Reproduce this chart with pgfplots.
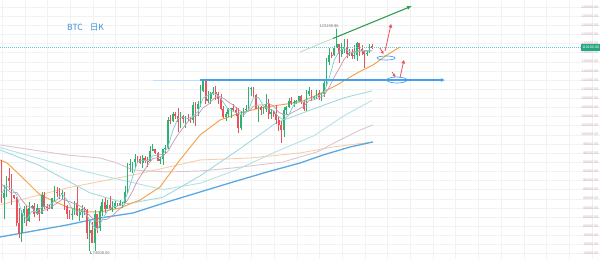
\documentclass[border=0pt]{standalone}
\usepackage{pgfplots}
\pgfplotsset{compat=1.18}
\usepackage{pgfplotstable}
\usepackage{fontspec}
\setmainfont{Liberation Sans}
\newfontfamily\cjk{Noto Sans CJK SC}
\usetikzlibrary{arrows.meta}

\definecolor{upc}{RGB}{46,178,112}
\definecolor{dnc}{RGB}{236,82,92}
\definecolor{maA}{RGB}{120,206,212}
\definecolor{maB}{RGB}{200,150,172}
\definecolor{maC}{RGB}{242,166,80}
\definecolor{maD}{RGB}{178,226,230}
\definecolor{maE}{RGB}{160,218,222}
\definecolor{maF}{RGB}{222,196,208}
\definecolor{maG}{RGB}{246,206,170}
\definecolor{maH}{RGB}{92,168,226}
\definecolor{hline}{RGB}{70,160,240}
\definecolor{tline}{RGB}{46,158,80}
\definecolor{txtblue}{RGB}{58,145,220}
\definecolor{pricebox}{RGB}{38,166,130}
\definecolor{axlab}{RGB}{200,165,175}
\definecolor{pline}{RGB}{100,200,215}

% day index (0 = 3 Mar 2025), prices in thousands; rising candles
\pgfplotstableread{
i o h l c
1 86.12 88.90 81.50 87.25
2 87.25 91.00 86.30 90.60
8 78.60 83.60 76.60 82.93
9 82.93 84.40 80.60 83.68
11 81.10 85.30 80.80 83.98
12 83.98 84.70 83.65 84.34
14 82.58 84.75 82.50 84.04
16 82.72 87.45 82.60 86.85
20 83.83 86.10 83.65 86.08
21 86.08 88.75 85.50 87.50
24 86.90 87.80 85.80 87.23
28 82.40 83.95 81.30 82.55
29 82.55 85.50 82.45 85.16
31 82.50 83.95 81.20 83.10
32 83.10 84.70 81.70 83.85
35 78.40 81.25 74.51 79.15
37 76.30 83.55 74.60 82.60
39 79.60 84.30 78.95 83.40
40 83.40 85.90 82.30 85.30
42 83.75 85.80 83.70 84.55
44 83.65 85.50 83.10 84.05
45 84.05 85.50 83.75 84.95
47 84.45 85.65 84.40 85.05
48 85.05 85.30 83.95 85.15
49 85.15 88.85 85.15 87.50
50 87.50 93.85 87.10 93.45
51 93.45 94.70 91.95 93.70
52 93.70 94.00 91.65 93.95
53 93.95 95.75 92.80 94.70
56 93.75 95.60 92.80 94.95
59 94.17 97.45 94.10 96.50
60 96.50 97.90 96.35 96.90
63 94.30 95.20 93.50 94.75
64 94.75 96.95 93.40 96.80
65 96.80 97.75 95.85 97.05
66 97.05 103.95 96.90 103.25
68 102.95 104.95 102.80 104.65
71 102.80 104.95 101.40 104.20
73 103.50 104.15 101.40 103.75
76 103.15 107.10 102.60 106.45
78 105.60 107.30 104.20 106.80
79 106.80 110.80 106.10 109.65
80 109.65 111.98 109.30 111.70
82 107.30 109.50 106.90 107.80
83 107.80 109.30 106.65 109.05
84 109.05 110.40 108.70 109.45
89 103.95 104.90 103.10 104.60
90 104.60 105.90 103.90 105.70
91 105.70 105.95 103.70 105.80
95 101.50 105.30 101.10 104.30
96 104.30 105.90 103.90 105.60
97 105.60 106.45 104.95 105.70
98 105.70 110.50 105.30 110.20
99 110.20 110.50 108.40 110.25
102 105.65 106.20 102.70 106.10
104 105.40 106.10 104.50 105.55
105 105.55 108.95 104.90 106.80
107 104.55 105.60 103.50 104.90
112 100.95 106.10 99.60 105.40
113 105.40 106.30 104.60 106.00
114 106.00 108.10 105.90 107.30
116 106.90 107.70 106.10 107.10
117 107.10 107.60 106.80 107.30
118 107.30 108.50 107.20 108.40
121 105.70 109.75 105.10 108.85
122 108.85 110.55 108.55 109.60
124 107.95 108.45 107.80 108.20
125 108.20 109.70 107.80 109.20
127 108.30 109.20 107.40 108.95
128 108.95 111.95 108.35 111.30
129 111.30 116.80 110.60 115.95
130 115.95 118.90 115.25 117.50
132 117.40 119.50 117.25 119.10
133 119.10 123.20 118.90 119.85
135 117.70 120.10 117.10 118.75
136 118.75 120.90 117.85 119.20
138 117.60 118.70 117.30 117.95
140 117.30 119.70 116.55 117.40
141 117.40 120.25 116.15 120.00
145 117.65 118.30 117.25 117.95
146 117.95 119.80 117.85 119.45
}\upc

% falling candles
\pgfplotstableread{
i o h l c
0 94.25 94.40 85.10 86.12
3 90.60 92.80 87.80 89.96
4 89.96 91.30 84.70 86.74
5 86.74 86.85 85.90 86.15
6 86.15 86.45 80.00 80.73
7 80.73 84.00 77.40 78.60
10 83.68 84.30 79.95 81.10
13 84.34 85.10 82.05 82.58
15 84.04 84.05 81.15 82.72
17 86.85 87.45 83.65 84.20
18 84.20 84.80 83.20 84.05
19 84.05 84.55 83.65 83.83
22 87.50 88.55 86.30 87.42
23 87.42 88.30 85.85 86.90
25 87.23 87.50 83.60 84.35
26 84.35 84.60 81.65 82.65
27 82.65 83.55 81.60 82.40
30 85.16 88.50 82.30 82.50
33 83.85 84.25 82.40 83.50
34 83.50 83.75 77.15 78.40
36 79.15 80.85 76.20 76.30
38 82.60 82.70 78.45 79.60
41 85.30 86.10 82.80 83.75
43 84.55 86.50 83.60 83.65
46 84.95 85.10 84.30 84.45
54 94.70 95.30 93.90 94.65
55 94.65 95.35 93.65 93.75
57 94.95 95.45 93.80 94.25
58 94.25 95.20 92.90 94.17
61 96.90 96.95 95.75 95.90
62 95.90 96.30 94.15 94.30
67 103.25 104.35 102.30 102.95
69 104.65 105.00 103.50 104.15
70 104.15 105.80 100.70 102.80
72 104.20 104.30 102.60 103.50
74 103.75 104.55 103.10 103.50
75 103.50 103.70 102.60 103.15
77 106.45 107.10 102.00 105.60
81 111.70 111.80 106.80 107.30
85 109.45 110.70 107.60 108.95
86 108.95 109.30 106.80 107.80
87 107.80 108.90 105.40 105.60
88 105.60 106.30 103.65 103.95
92 105.80 106.80 105.00 105.40
93 105.40 106.00 104.20 104.70
94 104.70 105.90 100.40 101.50
100 110.25 110.40 108.30 108.65
101 108.65 108.95 105.65 105.65
103 106.10 106.20 104.30 105.40
106 106.80 107.80 103.40 104.55
108 104.90 105.20 103.90 104.60
109 104.60 106.50 102.30 103.30
110 103.30 104.00 100.80 102.10
111 102.10 103.00 98.20 100.95
115 107.30 108.30 106.60 106.90
119 108.40 108.80 106.75 107.10
120 107.10 107.55 105.25 105.70
123 109.60 109.75 107.30 107.95
126 109.20 109.70 107.50 108.30
131 117.50 118.20 116.90 117.40
134 119.85 119.95 115.70 117.70
137 119.20 120.95 116.80 117.60
139 117.95 118.85 116.50 117.30
142 120.00 120.10 117.30 118.75
143 118.75 119.55 117.45 118.35
144 118.35 118.45 114.70 117.65
147 119.45 119.80 118.80 119.10
}\dnc

\pgfplotstableread{
i v
0 87.08
2 88.84
4 88.13
6 86.84
8 83.03
10 81.41
12 83.21
14 83.21
16 84.11
18 84.37
20 85.00
22 85.78
24 87.03
26 85.71
28 83.84
30 83.05
32 83.43
34 82.27
36 80.24
38 79.21
40 81.44
42 83.32
44 84.26
46 84.33
48 84.73
50 87.12
52 90.75
54 94.09
56 94.40
58 94.35
60 95.35
62 95.55
64 95.73
66 97.23
68 100.94
70 103.56
72 103.86
74 103.55
76 104.07
78 105.10
80 108.04
82 108.65
84 109.06
86 108.61
88 107.15
90 105.53
92 105.09
94 104.62
96 104.30
98 105.46
100 108.08
102 108.17
104 106.27
106 105.68
108 105.28
110 103.89
112 103.27
114 104.35
116 106.54
118 107.40
120 107.12
122 107.93
124 108.06
126 108.65
128 109.19
129 110.74
130 112.40
131 114.22
132 116.25
134 118.31
136 118.92
138 118.24
140 117.89
142 118.28
144 118.43
146 118.43
147 118.50
}\maFive

\pgfplotstableread{
i v
0 89.26
2 88.09
4 87.24
6 87.40
8 85.76
10 84.45
12 84.07
14 82.72
16 83.21
18 83.79
20 84.33
22 85.01
24 85.86
26 85.55
28 85.12
30 84.71
32 84.10
34 82.86
36 81.74
38 81.03
40 81.35
42 81.52
44 82.29
46 83.36
48 84.26
50 85.71
52 87.64
54 90.01
56 91.67
58 93.39
60 94.80
62 94.96
64 95.29
66 96.34
68 98.29
70 100.02
72 101.47
74 102.90
76 103.89
78 104.40
80 105.93
82 106.62
84 107.81
86 108.48
88 108.00
90 107.18
92 106.49
94 105.48
96 104.80
98 105.16
100 106.27
102 106.53
104 106.52
106 106.90
108 106.25
110 104.93
112 104.38
114 104.47
116 105.06
118 105.60
120 106.28
122 107.45
124 107.66
126 108.09
128 108.60
130 110.38
132 112.59
134 114.53
136 116.57
138 117.76
140 118.25
142 118.43
144 118.25
146 118.26
147 118.39
}\maTen

\pgfplotstableread{
i v
-0.6 94.48
2.2 93.82
7.3 91.19
15.3 86.81
26.0 84.19
33.9 83.09
39.1 83.09
47.0 83.97
55.0 85.72
62.9 88.57
70.8 94.48
78.8 99.95
86.7 103.23
94.6 104.76
102.6 105.86
110.5 106.52
118.5 107.17
125.2 108.70
133.1 110.89
141.1 113.52
147.4 115.27
153.0 117.46
158.1 119.21
}\maThirty

\pgfplotstableread{
i v
-0.6 96.7
15 93.3
35 87.3
50 84.9
64 86.3
78.8 91.0
94 96.7
109 102.6
124 105.7
136 108.1
147 109.6
}\maSixty

\pgfplotstableread{
i v
-0.6 97.2
35 91.7
64 88.0
79 89.4
94 92.5
109 96.3
124 99.8
136 104.2
147 107.5
}\maNinety

\pgfplotstableread{
i v
-0.6 97.76
12.5 96.67
26.0 95.57
39.1 94.91
45.8 93.82
52.2 92.29
65.7 91.85
78.8 92.07
91.9 92.73
111.7 94.04
125.2 96.23
134.3 98.85
142.3 101.04
147.4 102.14
}\maLong

\pgfplotstableread{
i v
-0.6 84.63
26.0 88.35
52.2 91.19
78.8 94.48
98.6 94.91
118.5 96.01
131.5 97.32
147.4 98.42
}\maSalmon

\pgfplotstableread{
i v
-0.6 77.62
26.0 80.25
39.1 81.78
52.2 82.87
65.7 85.28
78.8 87.47
91.9 89.66
105.4 91.85
118.5 93.82
127.6 95.57
138.3 97.32
147.4 98.42
}\maBlue

\begin{document}
\begin{tikzpicture}
\begin{axis}[
  at={(0,0)}, anchor=south west,
  scale only axis, width=600pt, height=259pt,
  xmin=-0.6, xmax=237.5, ymin=72.8, ymax=129.5,
  axis line style={draw=none},
  major tick length=0pt,
  xtick={0.2,9.2,...,237}, xticklabels={},
  ytick={74,76,...,128},
  yticklabel pos=right,
  /pgf/number format/assume math mode=true,
  yticklabel={\pgfmathprintnumber[fixed,precision=0,1000 sep={}]{\tick}000.00},
  yticklabel style={anchor=east, xshift=-1.5pt, font=\fontsize{3.6}{4}\selectfont, text=axlab, inner sep=0pt},
  grid=major, grid style={draw=black!5, line width=0.3pt},
]
% long moving averages
\addplot[maG, line width=0.9pt] table[x=i,y=v] {\maSalmon};
\addplot[maH, line width=1.3pt] table[x=i,y=v] {\maBlue};
\addplot[maF, line width=0.9pt] table[x=i,y=v] {\maLong};
\addplot[maD, line width=0.9pt] table[x=i,y=v] {\maNinety};
\addplot[maE, line width=0.9pt] table[x=i,y=v] {\maSixty};
\addplot[maC, line width=1.0pt] table[x=i,y=v] {\maThirty};

% wicks (low to high)
\addplot[upc, line width=0.45pt, mark=none,
  quiver={u=0, v=\thisrow{h}-\thisrow{l}}] table[x=i, y=l] {\upc};
\addplot[dnc, line width=0.45pt, mark=none,
  quiver={u=0, v=\thisrow{h}-\thisrow{l}}] table[x=i, y=l] {\dnc};
% bodies (open to close)
\addplot[upc, line width=1.8pt, mark=none,
  quiver={u=0, v=\thisrow{c}-\thisrow{o}}] table[x=i, y=o] {\upc};
\addplot[dnc, line width=1.8pt, mark=none,
  quiver={u=0, v=\thisrow{c}-\thisrow{o}}] table[x=i, y=o] {\dnc};

% short moving averages
\addplot[maB, line width=0.7pt] table[x=i,y=v] {\maTen};
\addplot[maA, line width=0.7pt] table[x=i,y=v] {\maFive};

% current price line
\draw[pline, line width=0.5pt, dash pattern=on 1pt off 1pt] (axis cs:-0.6,119.1) -- (axis cs:237.5,119.1);

% horizontal resistance line
\draw[hline!35, line width=0.6pt] (axis cs:60.1,111.98) -- (axis cs:78.8,111.98);
\draw[hline, line width=1.4pt, -{Latex[length=4pt,width=4pt]}] (axis cs:78.8,111.98) -- (axis cs:176.0,111.98);

% green trend line
\draw[tline!35, line width=0.8pt] (axis cs:118.5,118.12) -- (axis cs:131.5,121.07);
\draw[tline, line width=1.1pt, -{Latex[length=5pt,width=4pt]}] (axis cs:131.5,121.07) -- (axis cs:162.9,128.19);

% red arrows
\draw[dnc, line width=0.8pt, -{Triangle[length=3pt,width=3pt]}] (axis cs:150.2,118.99) -- (axis cs:151.6,117.68);
\draw[dnc, line width=0.8pt, -{Triangle[length=3.5pt,width=3.5pt]}] (axis cs:152.2,118.34) -- (axis cs:154.6,124.25);
\draw[dnc, line width=0.8pt, -{Triangle[length=3pt,width=3pt]}] (axis cs:155.0,113.74) -- (axis cs:156.3,112.64);
\draw[dnc, line width=0.8pt, -{Triangle[length=3.5pt,width=3.5pt]}] (axis cs:158.1,112.43) -- (axis cs:159.7,116.37);

% ellipses
\draw[hline, line width=0.7pt] (axis cs:152.6,116.8) ellipse [x radius=9pt, y radius=2pt];
\draw[hline, line width=0.7pt] (axis cs:156.9,111.98) ellipse [x radius=10pt, y radius=3pt];

% high / low labels
\node[anchor=south, font=\fontsize{4}{4}\selectfont, text=black!55, inner sep=0.5pt] at (axis cs:130.0,123.3) {123198.96};
\draw[black!35, line width=0.3pt] (axis cs:132.6,123.45) -- (axis cs:133,123.2);
\node[anchor=west, font=\fontsize{4}{4}\selectfont, text=black!55, inner sep=0.5pt] at (axis cs:36.0,74.0) {74508.00};
\draw[black!35, line width=0.3pt] (axis cs:35,74.45) -- (axis cs:35,74.0) -- (axis cs:36,74.0);

% title
\node[anchor=west, font=\cjk\fontsize{8.5}{9}\selectfont, text=txtblue, inner sep=0pt] at (axis cs:26.0,123.4) {BTC\hspace{7pt}日K};

% price box
\node[fill=pricebox, text=white, anchor=east, font=\fontsize{3.6}{4}\selectfont, inner sep=0.8pt, minimum height=6.5pt] at (axis cs:237.5,119.1) {119100.00};
\end{axis}
\pgfresetboundingbox
\useasboundingbox (0,0) rectangle (600pt,259pt);
\end{tikzpicture}
\end{document}
